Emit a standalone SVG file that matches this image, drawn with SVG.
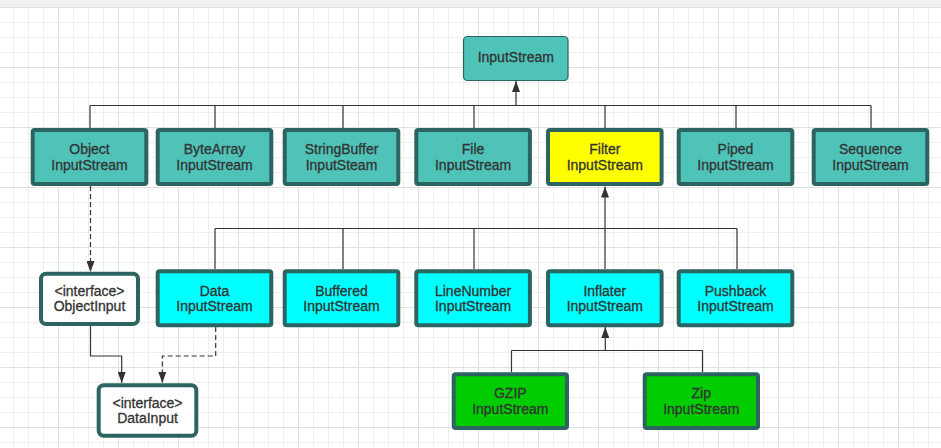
<svg xmlns="http://www.w3.org/2000/svg" width="941" height="448" viewBox="0 0 941 448">
<defs>
<pattern id="grid" x="-2" y="7" width="60" height="60" patternUnits="userSpaceOnUse">
<path d="M15.5,0V60M30.5,0V60M45.5,0V60M0,15.5H60M0,30.5H60M0,45.5H60" stroke="#efefef" stroke-width="1" fill="none"/>
<path d="M0.5,0V60M0,0.5H60" stroke="#e0e0e0" stroke-width="1" fill="none"/>
</pattern>
<marker id="arr" viewBox="0 0 11 8" refX="11" refY="4" markerWidth="11" markerHeight="8" orient="auto" markerUnits="userSpaceOnUse">
<path d="M0,0L11,4L0,8z" fill="#333"/>
</marker>
<style>
.box{stroke:#2b6460;stroke-width:4}
.teal{fill:#4fc3b8}
.cyan{fill:#00ffff}
.yellow{fill:#ffff00}
.green{fill:#00cc00}
.white{fill:#ffffff}
text{font-family:"Liberation Sans",Arial,sans-serif;font-size:14px;fill:#333;stroke:#333;stroke-width:0.3;text-anchor:middle}
.ln{stroke:#333;stroke-width:1.2;fill:none}
.dash{stroke-dasharray:5,3}
</style>
</defs>
<rect x="0" y="0" width="941" height="448" fill="#ffffff"/>
<rect x="0" y="0" width="941" height="7" fill="#f1f1f1"/>
<rect x="0" y="7" width="941" height="441" fill="url(#grid)"/>

<g id="connectors">
<path class="ln" d="M90,105.5H871M90,105.5V128M215,105.5V128M343,105.5V128M474,105.5V128M605,105.5V128M736,105.5V128M871,105.5V128"/>
<path class="ln" d="M516,105.5V81" marker-end="url(#arr)"/>
<path class="ln" d="M215,228.5H737M215,228.5V269M343,228.5V269M474,228.5V269M737,228.5V269"/>
<path class="ln" d="M605,269V186.5" marker-end="url(#arr)"/>
<path class="ln dash" d="M90.5,186V272" marker-end="url(#arr)"/>
<path class="ln" d="M90.5,326V356H121.7V383" marker-end="url(#arr)"/>
<path class="ln dash" d="M215.7,327V356H162.3V383" marker-end="url(#arr)"/>
<path class="ln" d="M511.5,350.5H702.5M511.5,350.5V372M702.5,350.5V372"/>
<path class="ln" d="M605.3,350.5V327" marker-end="url(#arr)"/>
</g>

<g id="InputStream">
<rect x="463.5" y="36.5" width="104.5" height="44" rx="4" fill="#4fc3b8" stroke="#2b6460" stroke-width="1.2"/>
<text x="515.8" y="62.3">InputStream</text>
</g>

<g id="ObjectInputStream">
<rect class="box teal" x="32.7" y="130" width="113.6" height="54" rx="2"/>
<text x="89.5" y="154.3">Object</text><text x="89.5" y="170">InputStream</text>
</g>
<g id="ByteArrayInputStream">
<rect class="box teal" x="157.7" y="130" width="113.6" height="54" rx="2"/>
<text x="214.5" y="154.3">ByteArray</text><text x="214.5" y="170">InputStream</text>
</g>
<g id="StringBufferInputSteam">
<rect class="box teal" x="284.7" y="130" width="113.6" height="54" rx="2"/>
<text x="341.5" y="154.3">StringBuffer</text><text x="341.5" y="170">InputSteam</text>
</g>
<g id="FileInputStream">
<rect class="box teal" x="416.3" y="130" width="113.6" height="54" rx="2"/>
<text x="473.1" y="154.3">File</text><text x="473.1" y="170">InputStream</text>
</g>
<g id="FilterInputStream">
<rect class="box yellow" x="548" y="130" width="113.6" height="54" rx="2"/>
<text x="604.8" y="154.3">Filter</text><text x="604.8" y="170">InputStream</text>
</g>
<g id="PipedInputStream">
<rect class="box teal" x="678.7" y="130" width="113.6" height="54" rx="2"/>
<text x="735.5" y="154.3">Piped</text><text x="735.5" y="170">InputStream</text>
</g>
<g id="SequenceInputStream">
<rect class="box teal" x="813.7" y="130" width="113.6" height="54" rx="2"/>
<text x="870.5" y="154.3">Sequence</text><text x="870.5" y="170">InputStream</text>
</g>

<g id="ObjectInput">
<rect class="box white" x="41" y="273.7" width="97" height="50.3" rx="5"/>
<text x="89.5" y="295.7">&lt;interface&gt;</text><text x="89.5" y="311">ObjectInput</text>
</g>
<g id="DataInputStream">
<rect class="box cyan" x="157.7" y="271.3" width="113.6" height="54" rx="2"/>
<text x="214.5" y="295.7">Data</text><text x="214.5" y="311">InputStream</text>
</g>
<g id="BufferedInputStream">
<rect class="box cyan" x="284.7" y="271.3" width="113.6" height="54" rx="2"/>
<text x="341.5" y="295.7">Buffered</text><text x="341.5" y="311">InputStream</text>
</g>
<g id="LineNumberInputStream">
<rect class="box cyan" x="416.3" y="271.3" width="113.6" height="54" rx="2"/>
<text x="473.1" y="295.7">LineNumber</text><text x="473.1" y="311">InputStream</text>
</g>
<g id="InflaterInputStream">
<rect class="box cyan" x="548" y="271.3" width="113.6" height="54" rx="2"/>
<text x="604.8" y="295.7">Inflater</text><text x="604.8" y="311">InputStream</text>
</g>
<g id="PushbackInputStream">
<rect class="box cyan" x="678.7" y="271.3" width="113.6" height="54" rx="2"/>
<text x="735.5" y="295.7">Pushback</text><text x="735.5" y="311">InputStream</text>
</g>

<g id="DataInput">
<rect class="box white" x="98.7" y="385.3" width="97.6" height="50.4" rx="5"/>
<text x="147.5" y="407.7">&lt;interface&gt;</text><text x="147.5" y="423.3">DataInput</text>
</g>
<g id="GZIPInputStream">
<rect class="box green" x="453.7" y="374.3" width="113.3" height="53.7" rx="2"/>
<text x="510.3" y="398.3">GZIP</text><text x="510.3" y="414.3">InputStream</text>
</g>
<g id="ZipInputStream">
<rect class="box green" x="644.7" y="374.3" width="113.3" height="53.7" rx="2"/>
<text x="701.3" y="398.3">Zip</text><text x="701.3" y="414.3">InputStream</text>
</g>
</svg>
